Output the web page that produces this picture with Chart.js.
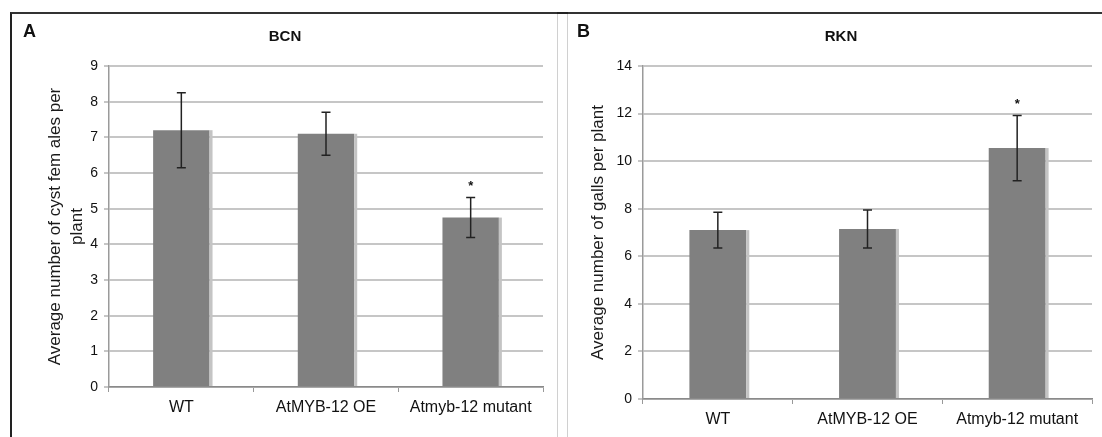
<!DOCTYPE html>
<html>
<head>
<meta charset="utf-8">
<script src="https://cdn.jsdelivr.net/npm/chart.js@4/dist/chart.umd.min.js"></script>
<style>
  body { margin: 0; background: #fff; width: 1102px; height: 437px; overflow: hidden; position: relative; }
  .panel { position: absolute; top: 12px; box-sizing: border-box; height: 440px; }
  #panelA { left: 10px; width: 548px; border-left: 2px solid #222; border-top: 2px solid #333; border-right: 1px solid #d0d0d0; }
  #panelB { left: 567px; width: 540px; border-left: 1px solid #d0d0d0; border-top: 2px solid #333; }
  #gap { position: absolute; left: 557px; top: 12px; width: 11px; height: 2px; background: #222; }
  canvas { position: absolute; top: 14px; }
  #bcn { left: 12px; }
  #rkn { left: 568px; }
</style>
</head>
<body>
<div class="panel" id="panelA"></div>
<div class="panel" id="panelB"></div>
<div id="gap"></div>
<canvas id="bcn" width="545" height="423"></canvas>
<canvas id="rkn" width="534" height="423"></canvas>
<script>
const categories = ['WT', 'AtMYB-12 OE', 'Atmyb-12 mutant'];

const bcnMeans = [7.2, 7.1, 4.75];
const bcnErrors = [1.05, 0.6, 0.56];
const bcnSignificant = [false, false, true];

const rknMeans = [7.1, 7.15, 10.55];
const rknErrors = [0.75, 0.8, 1.37];
const rknSignificant = [false, false, true];

Chart.defaults.font.family = '"Liberation Sans", Arial, sans-serif';
Chart.defaults.color = '#111';

// error bars, asterisks, bar edge shading, panel letter and title
const extrasPlugin = {
  id: 'extras',
  afterDatasetsDraw(chart, args, opts) {
    const ctx = chart.ctx;
    const yScale = chart.scales.y;
    const meta = chart.getDatasetMeta(0);
    ctx.save();
    meta.data.forEach((bar, i) => {
      // light right edge
      const props = bar.getProps(['x', 'y', 'base', 'width'], true);
      ctx.fillStyle = '#c4c4c4';
      ctx.fillRect(props.x + props.width / 2, props.y, 3, props.base - props.y);

      const mean = opts.means[i];
      const err = opts.errors[i];
      const yTop = yScale.getPixelForValue(mean + err);
      const yBot = yScale.getPixelForValue(mean - err);
      ctx.strokeStyle = '#222';
      ctx.lineWidth = 1.5;
      ctx.beginPath();
      ctx.moveTo(props.x, yTop);
      ctx.lineTo(props.x, yBot);
      ctx.moveTo(props.x - 4.5, yTop);
      ctx.lineTo(props.x + 4.5, yTop);
      ctx.moveTo(props.x - 4.5, yBot);
      ctx.lineTo(props.x + 4.5, yBot);
      ctx.stroke();

      if (opts.significant[i]) {
        ctx.fillStyle = '#111';
        ctx.font = 'bold 13px "Liberation Sans", Arial, sans-serif';
        ctx.textAlign = 'center';
        ctx.textBaseline = 'middle';
        ctx.fillText('*', props.x, yTop - 11);
      }
    });
    ctx.restore();
  },
  afterDraw(chart, args, opts) {
    const ctx = chart.ctx;
    ctx.save();
    ctx.fillStyle = '#111';
    ctx.font = 'bold 18px "Liberation Sans", Arial, sans-serif';
    ctx.textAlign = 'left';
    ctx.textBaseline = 'middle';
    ctx.fillText(opts.letter, opts.letterX, 18);
    ctx.font = 'bold 15px "Liberation Sans", Arial, sans-serif';
    ctx.textAlign = 'center';
    ctx.fillText(opts.title, 273, 23);
    ctx.restore();
  }
};

function makeChart(canvasId, title, means, errors, significant, yMax, yStep, yTitle, yTitlePad, yWidth, xHeight, rightPad, letter, letterX, barPct) {
  return new Chart(document.getElementById(canvasId), {
    type: 'bar',
    data: {
      labels: categories,
      datasets: [{
        data: means,
        backgroundColor: '#808080',
        borderWidth: 0,
        categoryPercentage: barPct,
        barPercentage: 1
      }]
    },
    options: {
      responsive: false,
      animation: false,
      layout: { padding: { left: 0, right: rightPad, top: 52, bottom: 0 } },
      plugins: {
        legend: { display: false },
        tooltip: { enabled: false },
        title: { display: false },
        extras: { means: means, errors: errors, significant: significant, letter: letter, letterX: letterX, title: title }
      },
      scales: {
        x: {
          grid: { display: true, drawOnChartArea: false, offset: true, color: '#999', tickLength: 5 },
          border: { color: '#8a8a8a', width: 1.5 },
          ticks: { font: { size: 16 }, color: '#111', padding: 6, maxRotation: 0 },
          afterFit(scale) { scale.height = xHeight; }
        },
        y: {
          min: 0,
          max: yMax,
          ticks: { stepSize: yStep, font: { size: 14 }, color: '#111', padding: 6 },
          grid: { color: '#c6c6c6', lineWidth: 2, tickLength: 5 },
          border: { color: '#9a9a9a', width: 1.5 },
          title: {
            display: true,
            text: yTitle,
            color: '#1a1a1a',
            font: { size: 17, lineHeight: 1.3 },
            padding: { top: yTitlePad, bottom: 0 }
          },
          afterFit(scale) { scale.width = yWidth; }
        }
      }
    },
    plugins: [extrasPlugin]
  });
}

makeChart('bcn', 'BCN', bcnMeans, bcnErrors, bcnSignificant, 9, 1,
  ['Average number of cyst fem ales per', 'plant'], 32, 97, 50, 14, 'A', 11, 0.39);
makeChart('rkn', 'RKN', rknMeans, rknErrors, rknSignificant, 14, 2,
  'Average number of galls per plant', 19, 75, 38, 10, 'B', 9, 0.38);
</script>
</body>
</html>
